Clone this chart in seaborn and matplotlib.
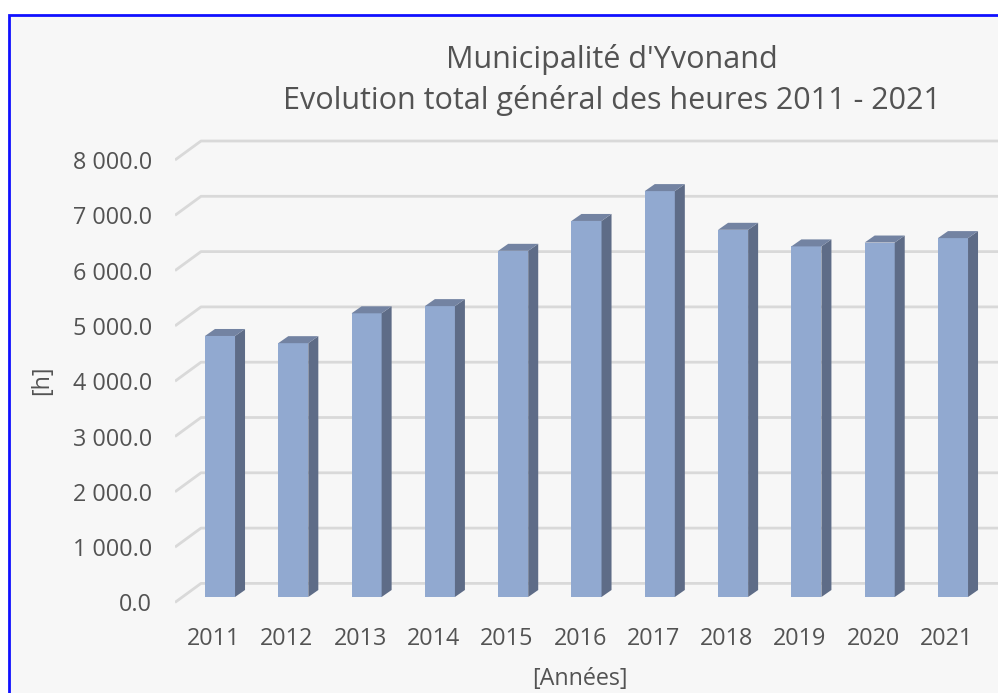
import numpy as np
import matplotlib
matplotlib.use("Agg")
import matplotlib.pyplot as plt
import matplotlib.transforms as mtransforms
from matplotlib.patches import Rectangle, Polygon
import seaborn as sns
import pandas as pd

# data
years = ["2011", "2012", "2013", "2014", "2015", "2016",
         "2017", "2018", "2019", "2020", "2021"]
hours = [4720, 4590, 5130, 5260, 6260, 6800, 7340, 6640, 6340, 6410, 6490]
yticks = [0, 1000, 2000, 3000, 4000, 5000, 6000, 7000, 8000]

title = "Municipalité d'Yvonand\nEvolution total général des heures 2011 - 2021"
xlabel = "[Années]"
ylabel = "[h]"

# colours
front_col = "#91a9d0"
side_col = "#5e6c87"
top_col = "#7383a2"
grid_col = "#d9d9d9"
text_col = "#535353"
bg_col = "#f7f7f7"

sns.set_theme(style="white")
plt.rcParams["font.family"] = ["Open Sans", "DejaVu Sans"]

W, H = 998, 693
fig = plt.figure(figsize=(W / 100, H / 100), dpi=100)
fig.patch.set_facecolor("white")

# blue chart frame
fig.add_artist(Rectangle((9 / W, -0.05), 1.1, (H - 15) / H + 0.05,
                         transform=fig.transFigure, facecolor=bg_col,
                         edgecolor="#1010ff", lw=2, zorder=0))

# pixel geometry of the plot area
px_cat = 73.3          # px per category
px_k = 55.3            # px per 1000 h
x0_px, L, R, T, B = 220, 175, 998, 130, 612
zero_px = 597

ax = fig.add_axes([L / W, (H - B) / H, (R - L) / W, (B - T) / H])
ax.set_facecolor("none")
for s in ax.spines.values():
    s.set_visible(False)

df = pd.DataFrame({"year": years, "hours": hours})
sns.barplot(data=df, x="year", y="hours", color=front_col, width=0.41,
            saturation=1, ax=ax, zorder=3, edgecolor="none")

ax.set_xlim(-(x0_px - L) / px_cat, (R - x0_px) / px_cat)
ax.set_ylim(-(B - zero_px) / px_k * 1000, (zero_px - T) / px_k * 1000)

def cat(px):
    return px / px_cat

def val(px):
    return px / px_k * 1000

# back wall grid with the diagonal floor/side edge
xl, xr = ax.get_xlim()
for v in yticks:
    ax.plot([xl, xl + cat(26), xr], [v - val(5.4), v + val(13.6), v + val(13.6)],
            color=grid_col, lw=2, zorder=1, solid_capstyle="butt")

# 3D side and top faces of the bars
ddx, ddy = cat(10), val(7)
for p in ax.patches:
    x, w, h = p.get_x(), p.get_width(), p.get_height()
    side = [(x + w, 0), (x + w + ddx, ddy), (x + w + ddx, h + ddy), (x + w, h)]
    top = [(x, h), (x + ddx, h + ddy), (x + w + ddx, h + ddy), (x + w, h)]
    ax.add_patch(Polygon(side, closed=True, facecolor=side_col, edgecolor="none", zorder=3))
    ax.add_patch(Polygon(top, closed=True, facecolor=top_col, edgecolor="none", zorder=3))

ax.set_yticks(yticks)
ax.set_yticklabels([f"{v:,.1f}".replace(",", " ") for v in yticks])
ax.tick_params(axis="both", length=0, colors=text_col, labelsize=16.8)
ax.tick_params(axis="y", pad=16.5)
ax.tick_params(axis="x", pad=11)
off_y = mtransforms.ScaledTranslation(0, -5.4 / 100, fig.dpi_scale_trans)
for lbl in ax.get_yticklabels():
    lbl.set_transform(lbl.get_transform() + off_y)
off_x = mtransforms.ScaledTranslation(-6.4 / 100, 0, fig.dpi_scale_trans)
for lbl in ax.get_xticklabels():
    lbl.set_transform(lbl.get_transform() + off_x)

ax.set_xlabel("")
ax.set_ylabel("")
fig.text(580 / W, 1 - 679 / H, xlabel, ha="center", va="center",
         fontsize=16.8, color=text_col)
fig.text(42 / W, 1 - 380 / H, ylabel, ha="center", va="center",
         rotation=90, fontsize=16.8, color=text_col)
fig.text(612 / W, 1 - 80 / H, title, ha="center", va="center",
         fontsize=22, color=text_col, linespacing=1.45)

fig.savefig("out.png", dpi=100)
